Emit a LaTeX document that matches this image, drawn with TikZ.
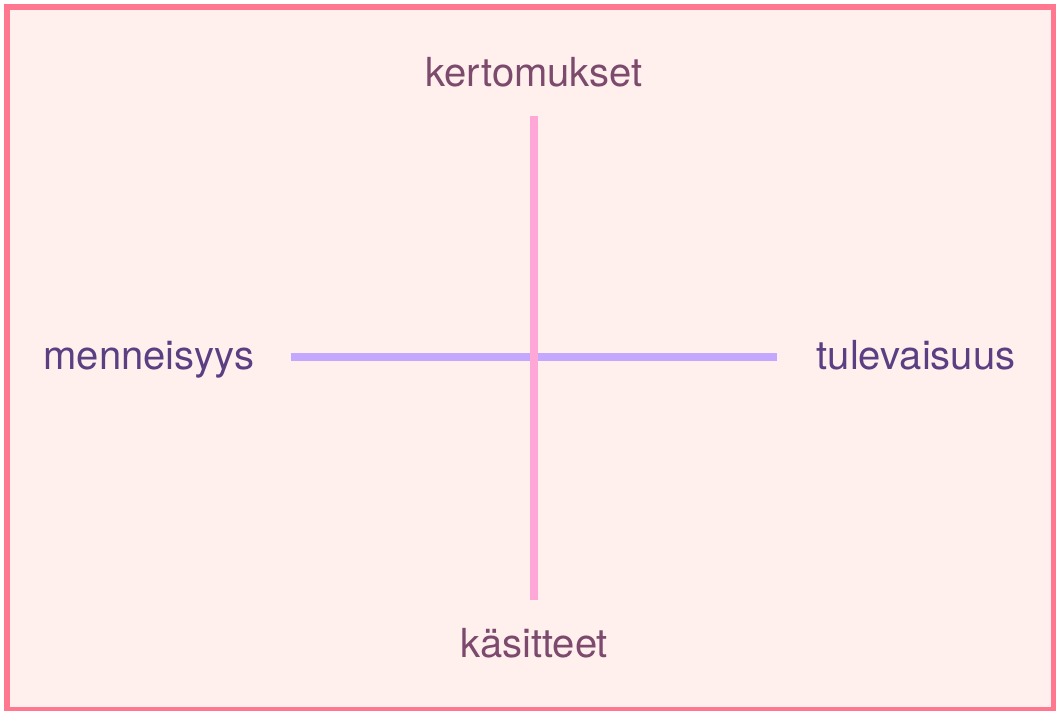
\documentclass[tikz,border=0pt]{standalone}
\usepackage{fontspec}
\setmainfont{TeX Gyre Heros}
\definecolor{bgfill}{HTML}{FFF0ED}
\definecolor{frame}{HTML}{FF7890}
\definecolor{vaxis}{HTML}{FFA8D8}
\definecolor{haxis}{HTML}{C4A8FF}
\definecolor{plumtext}{HTML}{7B4A6C}
\definecolor{violettext}{HTML}{5B3F82}
\begin{document}
\begin{tikzpicture}[x=1pt,y=-1pt,
  axislabel/.style={font=\fontsize{40}{46}\selectfont, anchor=base, inner sep=0pt},
  axisline/.style={line width=8.5pt}]
\useasboundingbox (0,0) rectangle (1056,710);
\fill[white] (0,0) rectangle (1056,710);
% framed panel
\draw[frame, fill=bgfill, line width=5.5pt] (7,7) rectangle (1053.5,709.5);
% axis end points
\coordinate (vtop) at (534,116);
\coordinate (vbot) at (534,600);
\coordinate (hleft) at (291,357);
\coordinate (hright) at (777,357);
% axes: horizontal first, vertical on top
\draw[axisline, haxis] (hleft) -- (hright);
\draw[axisline, vaxis] (vtop) -- (vbot);
% labels
\node[axislabel, text=plumtext] (kert) at (534,86) {kertomukset};
\node[axislabel, text=plumtext] (kasi) at (534,657) {käsitteet};
\node[axislabel, text=violettext] (menn) at (149,369) {menneisyys};
\node[axislabel, text=violettext] (tule) at (916,369) {tulevaisuus};
\end{tikzpicture}
\end{document}
